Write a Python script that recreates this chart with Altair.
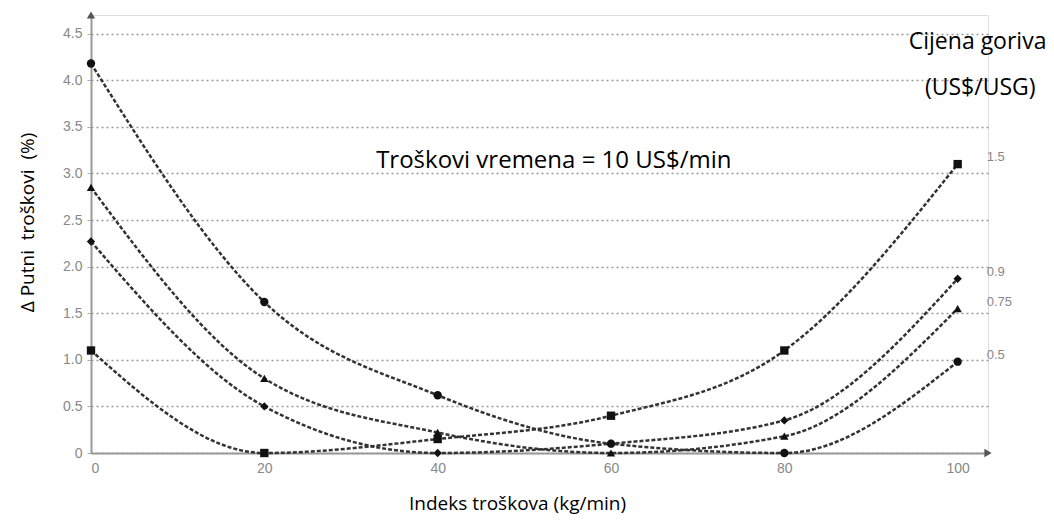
import altair as alt
import pandas as pd

# ---- data ----
cost_index = [0, 20, 40, 60, 80, 100]
fuel_prices = ["1.5", "0.9", "0.75", "0.5"]
delta_15 = [1.1, 0.0, 0.15, 0.4, 1.1, 3.1]
delta_09 = [2.27, 0.5, 0.0, 0.1, 0.35, 1.87]
delta_075 = [2.85, 0.8, 0.22, 0.0, 0.18, 1.55]
delta_05 = [4.18, 1.62, 0.62, 0.1, 0.0, 0.98]
shapes = ["square", "diamond", "triangle-up", "circle"]
y_ticks = [0, 0.5, 1.0, 1.5, 2.0, 2.5, 3.0, 3.5, 4.0, 4.5]
x_ticks = [0, 20, 40, 60, 80, 100]
x_max = 103.5
y_max = 4.7

series_vals = [delta_15, delta_09, delta_075, delta_05]
rows = []
for name, vals in zip(fuel_prices, series_vals):
    for xv, yv in zip(cost_index, vals):
        rows.append({"x": xv, "y": yv, "series": name})
df = pd.DataFrame(rows)

end_df = pd.DataFrame({
    "x": [cost_index[-1]] * 4,
    "y": [v[-1] for v in series_vals],
    "label": fuel_prices,
})

arrow_df = pd.DataFrame({"x": [0, x_max], "y": [y_max, 0], "shape": ["triangle-up", "triangle-right"]})

notes_df = pd.DataFrame({
    "x": [102.3, 102.6, 53.4],
    "y": [4.41, 3.92, 3.13],
    "text": ["Cijena goriva", "(US$/USG)", "Troškovi vremena = 10 US$/min"],
    "size": [23, 23, 24],
})

xscale = alt.Scale(domain=[0, x_max], nice=False, zero=False)
yscale = alt.Scale(domain=[0, y_max], nice=False)

x_enc = alt.X("x:Q", scale=xscale, axis=alt.Axis(
    values=x_ticks, title="Indeks troškova (kg/min)", grid=False, ticks=False,
    domainColor="#999", domainWidth=2, labelColor="#888", labelFont="Liberation Sans",
    labelFontSize=14, labelPadding=8, titleFont="Open Sans", titleFontSize=19,
    titleFontWeight="normal", titleColor="#000", titleX=426, titleY=50,
    titleBaseline="middle", titleAlign="center"))
y_enc = alt.Y("y:Q", scale=yscale, axis=alt.Axis(
    values=y_ticks, title="Δ Putni\u00a0\u00a0troškovi\u00a0\u00a0(%)", grid=True, gridDash=[2, 3],
    gridColor="#999", gridWidth=1.5, tickSize=4, tickColor="#aaa",
    domainColor="#999", domainWidth=2, labelColor="#888", labelFont="Liberation Sans",
    labelFontSize=14, labelPadding=5,
    labelExpr="datum.value == 0 ? '0' : format(datum.value, '.1f')",
    titleFont="Open Sans", titleFontSize=19, titleFontWeight="normal", titleColor="#000",
    titleAngle=-90, titleX=-64, titleY=207, titleBaseline="middle", titleAlign="center"))

lines = alt.Chart(df).mark_line(
    interpolate="monotone", strokeDash=[4, 2], strokeWidth=2.5, color="#333"
).encode(x=x_enc, y=y_enc, detail="series:N")

points = alt.Chart(df).mark_point(filled=True, color="#111", size=70, opacity=1).encode(
    x="x:Q", y="y:Q",
    shape=alt.Shape("series:N", scale=alt.Scale(domain=fuel_prices, range=shapes), legend=None),
)

end_labels = alt.Chart(end_df).mark_text(
    align="left", baseline="middle", dx=29, dy=-7, font="Liberation Sans", fontSize=13, color="#888"
).encode(x="x:Q", y="y:Q", text="label:N")

arrows = alt.Chart(arrow_df).mark_point(filled=True, color="#555", size=70, opacity=1).encode(
    x="x:Q", y="y:Q",
    shape=alt.Shape("shape:N", scale=None),
)

notes = alt.Chart(notes_df).mark_text(
    align="center", baseline="middle", font="Open Sans", color="#000"
).encode(x="x:Q", y="y:Q", text="text:N", size=alt.Size("size:Q", scale=None, legend=None))

chart = alt.layer(lines, points, end_labels, arrows, notes).properties(
    width=897, height=438,
    autosize=alt.AutoSizeParams(type="none"),
    padding={"left": 83, "top": 7, "right": 58, "bottom": 66},
).configure_view(stroke=None).configure(background="white")

chart.save("out.html", embed_options={"renderer": "svg", "actions": False})
